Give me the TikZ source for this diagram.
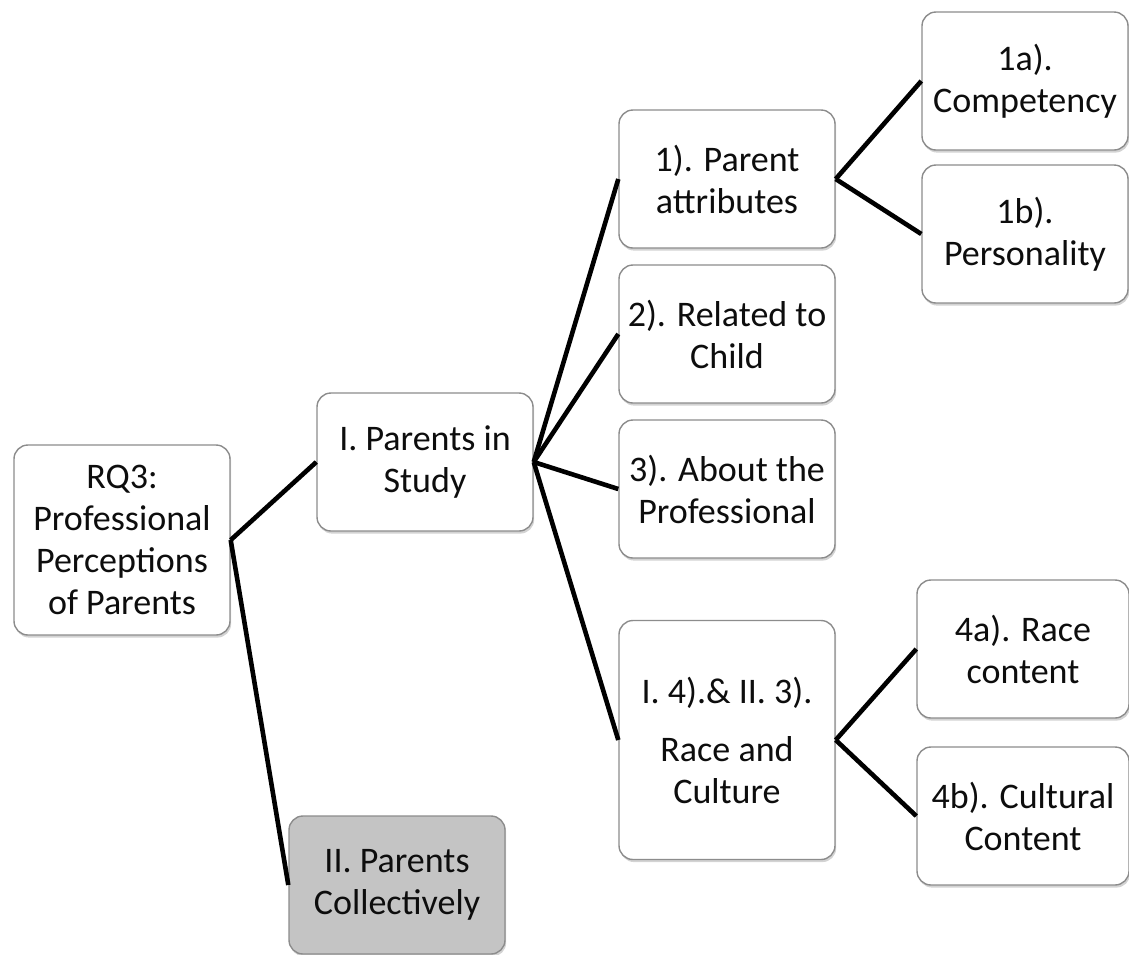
\documentclass[tikz,border=0pt]{standalone}
\usepackage{fontspec}
\setmainfont{Carlito}
\usetikzlibrary{shadows}
\begin{document}
\begin{tikzpicture}[x=0.5pt,y=-0.5pt,
	box/.style={draw=black!45,line width=0.7pt,fill=white,rounded corners=7pt,align=center,inner sep=2pt,
		minimum width=108pt,minimum height=69pt,text=black!95,font=\fontsize{18}{21}\selectfont,
		drop shadow={shadow xshift=0.6pt,shadow yshift=-1.3pt,opacity=0.35}},
	conn/.style={line width=2.3pt}]
	\useasboundingbox (0,0) rectangle (1129,954);
	\node[box,minimum height=95pt] (rq) at (122,540) {RQ3:\\Professional\\Perceptions\\of Parents};
	\node[box] (study) at (425,462) {I. Parents in\\Study};
	\node[box,fill=black!23] (coll) at (397,885) {II. Parents\\Collectively};
	\node[box] (attr) at (727,179) {1). Parent\\attributes};
	\node[box] (child) at (727,334) {2). Related to\\Child};
	\node[box] (prof) at (727,489) {3). About the\\Professional};
	\node[box,minimum height=119.5pt] (race) at (727,740) {I. 4).\& II. 3).\\[8pt]Race and\\Culture};
	\node[box,minimum width=103pt] (comp) at (1025,81) {1a).\\Competency};
	\node[box,minimum width=103pt] (pers) at (1025,234) {1b).\\Personality};
	\node[box,minimum width=106pt] (rcont) at (1023,649) {4a). Race\\content};
	\node[box,minimum width=106pt] (ccont) at (1023,816) {4b). Cultural\\Content};
	\foreach \t in {study,coll}{\draw[conn] (rq.east)--(\t.west);}
	\foreach \t in {attr,child,prof,race}{\draw[conn] (study.east)--(\t.west);}
	\foreach \t in {comp,pers}{\draw[conn] (attr.east)--(\t.west);}
	\foreach \t in {rcont,ccont}{\draw[conn] (race.east)--(\t.west);}
\end{tikzpicture}
\end{document}
